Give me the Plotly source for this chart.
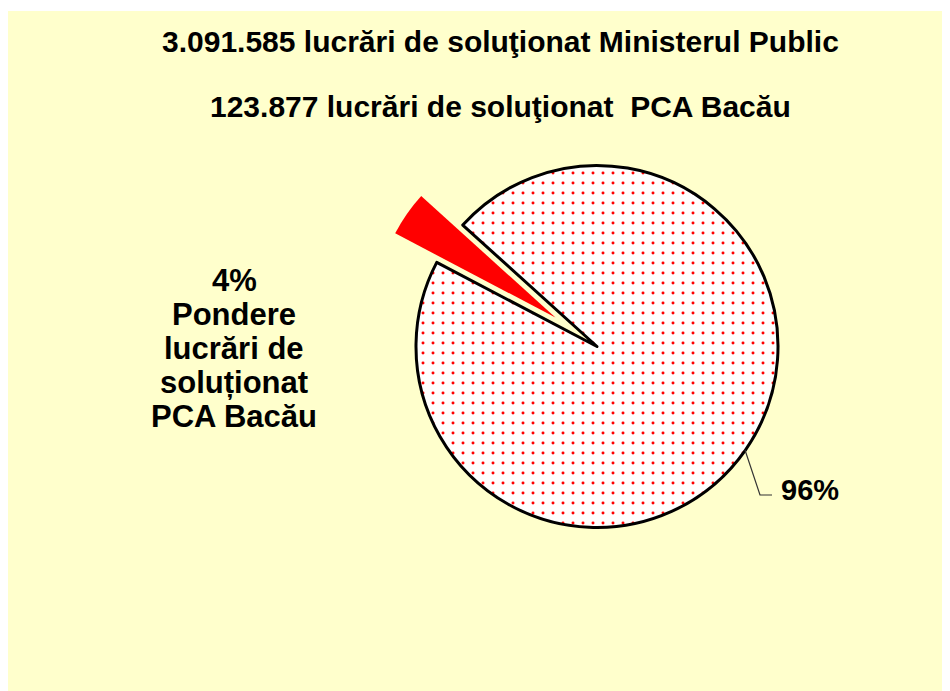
import plotly.graph_objects as go

# Data
total_mp = 3091585
pca_bacau = 123877
labels = ["PCA Bacău", "Restul Ministerului Public"]
values = [pca_bacau, total_mp - pca_bacau]
pct_labels = ["4%", "96%"]
title_lines = ["3.091.585 lucrări de soluţionat Ministerul Public",
               "123.877 lucrări de soluţionat  PCA Bacău"]
left_label_lines = ["4%", "Pondere", "lucrări de", "soluționat", "PCA Bacău"]

W, H = 950, 691
OFF = 8  # page body margin
FONT = "Liberation Sans, Arial, sans-serif"

def px(x):
    return (x - OFF) / W

def py(y):
    return 1 - (y - OFF) / H

# pie geometry in page pixels (center 597,346.5 ; radius ~181 ; pull 0.28)
cx, cy, r, pull = 597, 346.5, 181, 0.28
half = r * (1 + pull)

fig = go.Figure()
fig.add_trace(go.Pie(
    labels=labels,
    values=values,
    sort=False,
    direction="clockwise",
    rotation=-62.3,
    pull=[pull, 0],
    textinfo="none",
    hoverinfo="label+percent",
    showlegend=False,
    domain=dict(x=[px(cx - half), px(cx + half)],
                y=[py(cy + half), py(cy - half)]),
    marker=dict(
        colors=["#FF0000", "#FFFFFF"],
        line=dict(color=["#FF0000", "#000000"], width=[0, 3]),
        pattern=dict(shape=["", "."], fgcolor=["#FF0000", "#FF0000"],
                     bgcolor=["#FF0000", "#FFFFFF"], size=10, solidity=0.07,
                     fillmode="replace"),
    ),
))

annotations = []
# title lines
for txt, y in zip(title_lines, [41, 107]):
    annotations.append(dict(text="<b>%s</b>" % txt, x=px(500), y=py(y),
                            xref="paper", yref="paper", showarrow=False,
                            xanchor="center", yanchor="middle",
                            font=dict(family=FONT, size=30, color="black")))
# left label
for i, txt in enumerate(left_label_lines):
    annotations.append(dict(text="<b>%s</b>" % txt, x=px(234), y=py(280 + 34 * i),
                            xref="paper", yref="paper", showarrow=False,
                            xanchor="center", yanchor="middle",
                            font=dict(family=FONT, size=31, color="black")))
# 96% label
annotations.append(dict(text="<b>%s</b>" % pct_labels[1], x=px(779), y=py(490),
                        xref="paper", yref="paper", showarrow=False,
                        xanchor="left", yanchor="middle",
                        font=dict(family=FONT, size=29, color="black")))

shapes = [
    dict(type="rect", xref="paper", yref="paper", x0=0, x1=1, y0=py(11), y1=1,
         fillcolor="white", line=dict(width=0), layer="below"),
    dict(type="path", xref="paper", yref="paper",
         path="M %f,%f L %f,%f L %f,%f" % (px(745), py(450), px(760), py(495), px(772), py(495)),
         line=dict(color="#333333", width=1.2), layer="above"),
]

fig.update_layout(
    width=W, height=H,
    margin=dict(l=0, r=0, t=0, b=0),
    paper_bgcolor="#FFFFCC",
    plot_bgcolor="#FFFFCC",
    annotations=annotations,
    shapes=shapes,
)

fig.write_html("out.html")
